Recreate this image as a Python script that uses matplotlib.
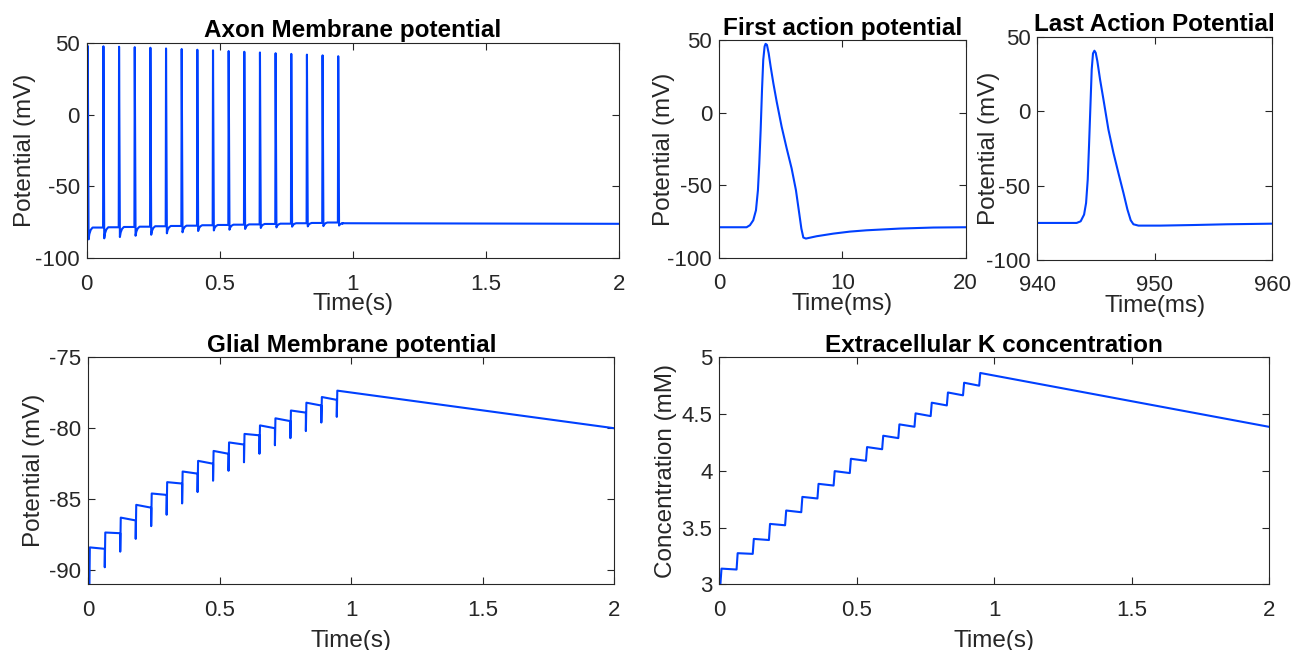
import matplotlib
matplotlib.use("Agg")
import matplotlib.pyplot as plt
import numpy as np

plt.rcParams["font.family"] = ["Liberation Sans", "DejaVu Sans"]
plt.rcParams["axes.unicode_minus"] = False

LINE = "#0040ff"
GREY = "#262626"

# spike peak times (s), peak / AHP trough / pre-spike resting levels (mV)
spike_times = [0.0038, 0.0626, 0.1214, 0.1803, 0.2391, 0.2979, 0.3567, 0.4155, 0.4744,
               0.5332, 0.5920, 0.6508, 0.7096, 0.7685, 0.8273, 0.8861, 0.9449]
spike_peaks = [47.7, 47.5, 47.2, 46.9, 46.5, 46.0, 45.6, 45.1, 44.7,
               44.2, 43.7, 43.2, 42.7, 42.2, 41.7, 41.2, 40.6]
spike_troughs = [-86.8, -86.1, -85.2, -84.3, -83.6, -82.6, -81.9, -81.0, -80.6,
                 -80.1, -79.6, -78.9, -78.5, -78.0, -77.8, -77.6, -77.2]
rest_levels = [-78.8, -78.6, -78.4, -78.2, -78.0, -77.7, -77.5, -77.3, -77.0,
               -76.8, -76.6, -76.4, -76.1, -75.9, -75.6, -75.4, -75.1]
rest_after = [-75.6, -76.0]  # at 0.96 s and 2 s
# AHP recovery: time after peak (s) and fraction recovered to the next rest level
hook_t = [0.0031, 0.006, 0.011, 0.018]
hook_frac = [0.0, 0.45, 0.8, 1.0]

# first action potential (ms, mV)
first_t = [0, 2.24, 2.51, 2.78, 3.0, 3.16, 3.27, 3.38, 3.49, 3.59, 3.70, 3.78, 3.89, 4.03,
           4.19, 4.41, 4.68, 5.08, 5.49, 5.89, 6.24, 6.51, 6.68, 6.84, 7.05, 7.92, 9.27,
           10.62, 11.97, 14.68, 17.38, 20]
first_v = [-78.8, -78.8, -77.4, -74.0, -67.1, -53.2, -34.8, -11.8, 15.9, 36.6, 45.9, 47.7,
           47.0, 41.2, 32.0, 20.5, 7.8, -9.4, -24.4, -38.2, -53.2, -69.4, -79.7, -85.9,
           -86.6, -85.0, -83.2, -81.8, -80.9, -79.7, -79.0, -78.8]

# last action potential (ms, mV)
last_t = [940, 943.35, 943.69, 943.98, 944.15, 944.29, 944.40, 944.52, 944.63, 944.74,
          944.86, 944.97, 945.11, 945.34, 945.63, 946.05, 946.48, 946.90, 947.33, 947.67,
          947.95, 948.18, 948.61, 950.45, 953.3, 956.14, 960]
last_v = [-75.1, -75.1, -74.0, -69.5, -61.7, -46.0, -23.5, 3.4, 28.0, 38.8, 40.6, 39.2,
          33.6, 21.3, 7.8, -12.3, -28.0, -41.5, -54.9, -66.1, -73.3, -76.0, -76.9, -76.9,
          -76.5, -76.0, -75.6]

# glial membrane potential around each spike (mV)
glial_pre = [-92.0, -88.5, -87.4, -86.5, -85.6, -84.7, -83.9, -83.2, -82.5,
             -81.8, -81.15, -80.5, -80.0, -79.5, -78.9, -78.4, -78.0]
glial_dip = [-92.0, -89.8, -88.7, -87.8, -86.9, -86.1, -85.3, -84.5, -83.7,
             -83.0, -82.4, -81.8, -81.2, -80.7, -80.2, -79.6, -79.2]
glial_top = [-88.4, -87.35, -86.3, -85.4, -84.6, -83.8, -83.05, -82.3, -81.6,
             -81.0, -80.4, -79.8, -79.3, -78.75, -78.2, -77.8, -77.35]
glial_end = -80.0

# extracellular K+ around each spike (mM)
k_pre = [3.0, 3.13, 3.268, 3.39, 3.52, 3.635, 3.756, 3.87, 3.98,
         4.088, 4.19, 4.288, 4.388, 4.482, 4.576, 4.665, 4.75]
k_top = [3.138, 3.274, 3.40, 3.532, 3.65, 3.77, 3.885, 3.997, 4.106,
         4.209, 4.309, 4.409, 4.506, 4.60, 4.69, 4.776, 4.862]
k_end = 4.387

t_end = 2.0


def axon_trace():
    t, v = [0.0], [rest_levels[0]]
    n = len(spike_times)
    for i, tp in enumerate(spike_times):
        nxt = rest_levels[i + 1] if i + 1 < n else rest_after[0]
        t += [tp - 0.0013, tp]
        v += [rest_levels[i], spike_peaks[i]]
        for dt, f in zip(hook_t, hook_frac):
            t.append(tp + dt)
            v.append(spike_troughs[i] + f * (nxt - spike_troughs[i]))
        if i + 1 < n:
            t.append(spike_times[i + 1] - 0.0013)
            v.append(nxt)
    t += [0.96, t_end]
    v += rest_after
    return t, v


def glial_trace():
    t, v = [0.0], [glial_pre[0]]
    for i, tp in enumerate(spike_times):
        t += [tp, tp, tp + 0.002]
        v += [glial_pre[i], glial_dip[i], glial_top[i]]
    t.append(t_end)
    v.append(glial_end)
    return t, v


def k_trace():
    t, v = [0.0], [k_pre[0]]
    for i, tp in enumerate(spike_times):
        t += [tp, tp + 0.004]
        v += [k_pre[i], k_top[i]]
    t.append(t_end)
    v.append(k_end)
    return t, v


def style(ax, title, xlabel, ylabel, xpad=-1):
    ax.set_title(title, fontsize=17.5, fontweight="bold", pad=4)
    ax.set_xlabel(xlabel, fontsize=17.5, color=GREY, labelpad=xpad)
    ax.set_ylabel(ylabel, fontsize=17.5, color=GREY, labelpad=3)
    ax.tick_params(direction="in", top=True, right=True, length=5, width=0.8,
                   labelsize=16, colors=GREY)
    ax.tick_params(axis="x", pad=11)
    ax.tick_params(axis="y", pad=5)
    for s in ax.spines.values():
        s.set_color(GREY)
        s.set_linewidth(0.8)


def main():
    fig = plt.figure(figsize=(12.91, 6.5), dpi=100)

    ax1 = fig.add_axes([0.0672, 0.6026, 0.4123, 0.3317])
    t, v = axon_trace()
    ax1.plot(t, v, color=LINE, lw=1.5)
    ax1.set_xlim(0, 2)
    ax1.set_ylim(-100, 50)
    ax1.set_xticks([0, 0.5, 1, 1.5, 2])
    ax1.set_xticklabels(["0", "0.5", "1", "1.5", "2"])
    ax1.set_yticks([-100, -50, 0, 50])
    style(ax1, "Axon Membrane potential", "Time(s)", "Potential (mV)")
    ax1.yaxis.set_label_coords(-0.095, 0.5)

    ax2 = fig.add_axes([0.5569, 0.6031, 0.1911, 0.3346])
    ax2.plot(first_t, first_v, color=LINE, lw=1.5)
    ax2.set_xlim(0, 20)
    ax2.set_ylim(-100, 50)
    ax2.set_xticks([0, 10, 20])
    ax2.set_yticks([-100, -50, 0, 50])
    style(ax2, "First action potential", "Time(ms)", "Potential (mV)")
    ax2.yaxis.set_label_coords(-0.178, 0.5)

    ax3 = fig.add_axes([0.8035, 0.6, 0.182, 0.3435])
    ax3.plot(last_t, last_v, color=LINE, lw=1.5)
    ax3.set_xlim(940, 960)
    ax3.set_ylim(-100, 50)
    ax3.set_xticks([940, 950, 960])
    ax3.set_yticks([-100, -50, 0, 50])
    style(ax3, "Last Action Potential", "Time(ms)", "Potential (mV)")
    ax3.yaxis.set_label_coords(-0.159, 0.5)

    ax4 = fig.add_axes([0.0684, 0.1011, 0.4074, 0.3492])
    t, v = glial_trace()
    ax4.plot(t, v, color=LINE, lw=1.5)
    ax4.set_xlim(0, 2)
    ax4.set_ylim(-91, -75)
    ax4.set_xticks([0, 0.5, 1, 1.5, 2])
    ax4.set_xticklabels(["0", "0.5", "1", "1.5", "2"])
    ax4.set_yticks([-90, -85, -80, -75])
    style(ax4, "Glial Membrane potential", "Time(s)", "Potential (mV)", xpad=7)

    ax5 = fig.add_axes([0.5572, 0.1011, 0.426, 0.3492])
    t, v = k_trace()
    ax5.plot(t, v, color=LINE, lw=1.5)
    ax5.set_xlim(0, 2)
    ax5.set_ylim(3, 5)
    ax5.set_xticks([0, 0.5, 1, 1.5, 2])
    ax5.set_xticklabels(["0", "0.5", "1", "1.5", "2"])
    ax5.set_yticks([3, 3.5, 4, 4.5, 5])
    ax5.set_yticklabels(["3", "3.5", "4", "4.5", "5"])
    style(ax5, "Extracellular K concentration", "Time(s)", "Concentration (mM)", xpad=7)

    fig.savefig("out.png", dpi=100)


if __name__ == "__main__":
    main()
